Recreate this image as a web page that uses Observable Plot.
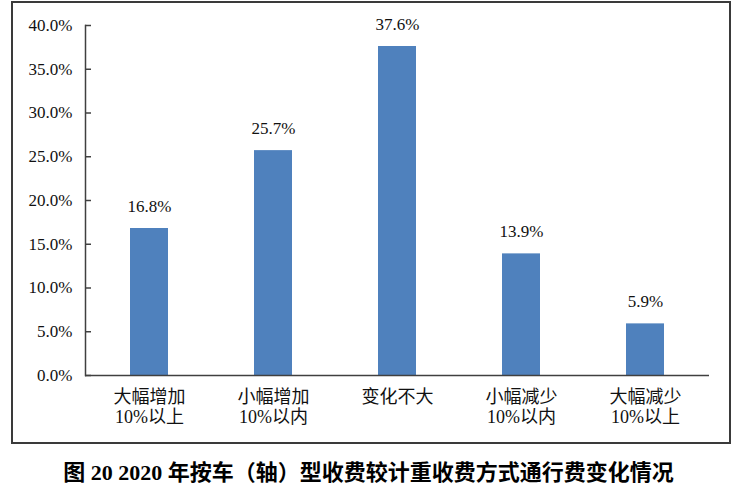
<!DOCTYPE html>
<html>
<head>
<meta charset="utf-8">
<script src="https://cdn.jsdelivr.net/npm/d3@7"></script>
<script src="https://cdn.jsdelivr.net/npm/@observablehq/plot@0.6"></script>
<style>
  html, body { margin: 0; padding: 0; background: #fff; }
  #wrap { position: relative; width: 737px; height: 490px; }
  #frame { position: absolute; left: 11px; top: 1px; width: 720px; height: 443px; border: 2px solid #3a3a3a; box-sizing: border-box; pointer-events: none; }
  #chart { position: absolute; left: 0; top: 0; }
  #title { position: absolute; left: 0; top: 458px; width: 737px; text-align: center; font-family: "Liberation Serif", "Noto Sans CJK SC", serif; font-weight: bold; font-size: 22px; line-height: 30px; color: #000; }
</style>
</head>
<body>
<div id="wrap">
  <div id="chart"></div>
  <div id="frame"></div>
  <div id="title">图 20 2020 年按车（轴）型收费较计重收费方式通行费变化情况</div>
</div>
<script>
const categoryLine1 = ["大幅增加", "小幅增加", "变化不大", "小幅减少", "大幅减少"];
const categoryLine2 = ["10%以上", "10%以内", "", "10%以内", "10%以上"];
const values = [0.168, 0.257, 0.376, 0.139, 0.059];
const yTicks = [0, 0.05, 0.10, 0.15, 0.20, 0.25, 0.30, 0.35, 0.40];

const categories = categoryLine1.map((a, i) => categoryLine2[i] ? a + "\n" + categoryLine2[i] : a);
const data = categories.map((c, i) => ({category: c, value: values[i]}));

const fontFamily = '"Liberation Serif", "Noto Sans CJK SC", serif';

const chart = Plot.plot({
  width: 737,
  height: 450,
  marginLeft: 85,
  marginRight: 28,
  marginTop: 25,
  marginBottom: 75,
  style: {fontFamily, fontSize: "17px", color: "#000", background: "transparent"},
  x: {domain: categories, paddingInner: 0.69, paddingOuter: 0.345},
  y: {domain: [0, 0.4]},
  marks: [
    Plot.barY(data, {x: "category", y: "value", fill: "#4F81BD"}),
    Plot.ruleY([0], {stroke: "#404040", strokeWidth: 1.5}),
    Plot.axisY({ticks: yTicks, tickFormat: d3.format(".1%"), tickSize: -6, tickPadding: 19, stroke: "#404040", strokeWidth: 1.5, fontSize: 17, fill: "#111", label: null}),
    Plot.frame({anchor: "left", stroke: "#404040", strokeWidth: 1.5}),
    Plot.axisX({tickSize: 0, tickPadding: 14, fontSize: 18, lineHeight: 1.08, fill: "#111", label: null}),
    Plot.text(data, {x: "category", y: "value", text: d => d3.format(".1%")(d.value), lineAnchor: "bottom", dy: -17, fontSize: 17, fill: "#111"})
  ]
});
document.getElementById("chart").appendChild(chart);
</script>
</body>
</html>
